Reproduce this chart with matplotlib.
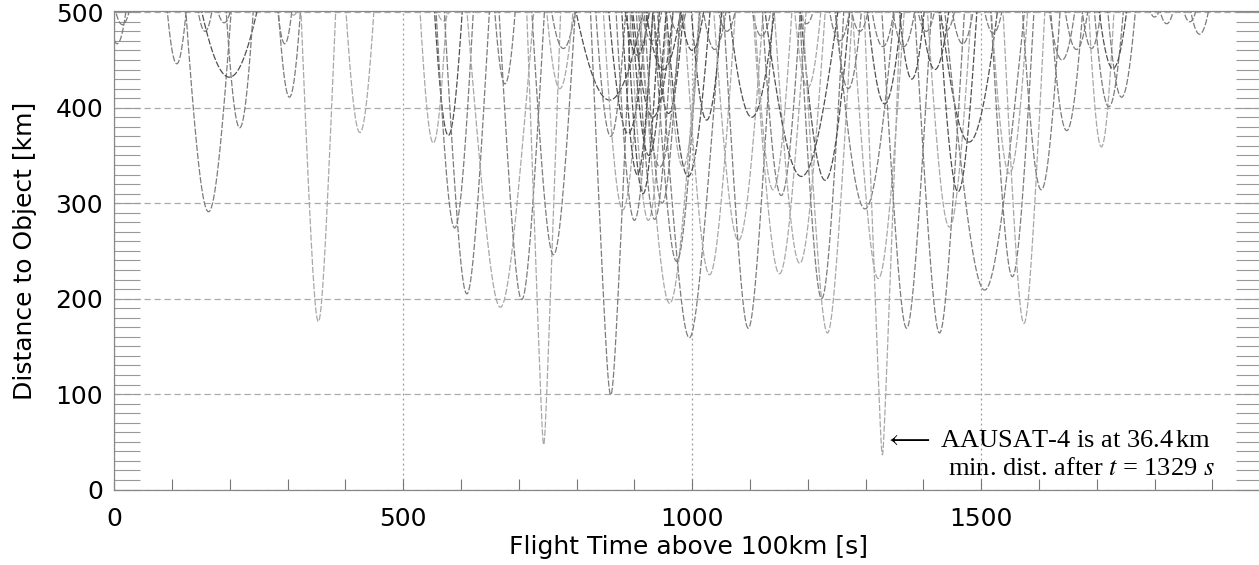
import numpy as np
import matplotlib
matplotlib.use("Agg")
import matplotlib.pyplot as plt
from matplotlib.ticker import MultipleLocator

# close approaches: time of minimum [s], minimum distance [km],
# relative speed [km/s] (sets the width of each dip) and grey shade (0 light .. 2 dark)
t_min = [5, 14, 108, 163, 157, 190, 199, 217, 295, 303, 310, 353, 425,
         552, 578, 569, 589, 610, 668, 676, 705, 743, 760, 777, 771,
         857, 859, 859, 880, 889, 900, 924, 935, 932, 944, 959, 961, 973,
         993, 995, 1025, 1030, 1039, 1080, 1097, 1103,
         1151, 1154, 1186, 1189, 1198, 1200, 1224, 1230, 1234, 1299, 1322,
         1329, 1330, 1333, 1366, 1371,
         1428, 1445, 1460, 1468, 1479, 1506, 1549, 1554, 1574, 1604, 1648,
         1691, 1708, 1721, 1728, 1743, 1800, 1821, 1861, 1878,
         905, 930, 950, 975, 984, 1000, 1060, 1120, 1140, 1255, 1290,
         1405, 1420, 1440, 1521, 1640, 1665,
         905, 915, 948, 925, 1270, 1380]
d_min = [467, 487, 446, 291, 480, 489, 432, 379, 467, 411, 497, 176, 374,
         363, 371, 491, 274, 205, 191, 425, 199, 47, 246, 462, 420,
         408, 370, 99, 293, 373, 282, 282, 283, 390, 338, 394, 195, 239,
         328, 159, 387, 225, 461, 261, 169, 390,
         226, 308, 237, 328, 488, 421, 200, 324, 164, 294, 221,
         36.4, 464, 404, 464, 169,
         164, 275, 312, 467, 364, 209, 331, 223, 174, 314, 376,
         462, 359, 401, 441, 411, 495, 488, 490, 477,
         455, 470, 440, 480, 338, 460, 480, 475, 314, 470, 480,
         480, 440, 481, 478, 450, 461,
         330, 310, 300, 350, 420, 430]
v_rel = [12, 10, 14, 10.4, 12, 10, 5.3, 14, 15, 15, 10, 15.6, 13.8,
         15, 14, 10, 13, 11.7, 8, 15, 11.7, 17, 11.6, 9.5, 12,
         5, 13, 14, 12, 10, 13, 13, 13, 9, 10, 12, 9, 11,
         10, 8.6, 12, 10, 10, 10, 11, 8,
         9.7, 12, 10, 6, 10, 12, 12, 9, 11, 8, 10,
         16, 10, 10, 10, 11,
         11, 11, 12, 10, 7, 6.6, 12, 12, 13, 12, 12,
         12, 16, 12, 10, 12, 10, 10, 10, 10,
         10, 10, 8, 10, 12, 10, 10, 10, 12, 10, 10,
         10, 10, 10, 10, 10, 10,
         14, 14, 13, 12, 12, 12]
shade = [1, 1, 1, 1, 1, 1, 2, 1, 1, 1, 0, 0, 0,
         0, 2, 0, 1, 1, 0, 1, 1, 0, 1, 1, 0,
         2, 1, 1, 0, 2, 1, 0, 1, 2, 1, 2, 0, 1,
         2, 1, 2, 0, 1, 0, 1, 2,
         0, 1, 0, 2, 1, 0, 1, 2, 0, 1, 0,
         0, 1, 2, 1, 1,
         1, 0, 2, 1, 2, 1, 0, 1, 0, 1, 1,
         1, 0, 1, 2, 1, 1, 1, 1, 1,
         2, 1, 2, 1, 0, 2, 1, 1, 0, 1, 1,
         1, 2, 1, 1, 1, 1,
         2, 2, 1, 2, 1, 2]

grey = {0: "#a8a8a8", 1: "#7c7c7c", 2: "#505050"}

fig = plt.figure(figsize=(12.59, 5.65), dpi=100)
ax = fig.add_axes([0.0908, 0.1327, 0.9116, 0.8473])

t = np.arange(0, 1990, 0.25)
for t0, d0, v, s in zip(t_min, d_min, v_rel, shade):
    d = np.sqrt(d0 ** 2 + (v * (t - t0)) ** 2)
    d[d > 520] = np.nan
    ax.plot(t, d, color=grey[s], lw=0.9, linestyle=(0, (5, 1.5)), zorder=2)

ax.set_xlim(0, 1986)
ax.set_ylim(-0.5, 501)

ax.set_xticks([0, 500, 1000, 1500])
ax.set_yticks([0, 100, 200, 300, 400, 500])
ax.xaxis.set_minor_locator(MultipleLocator(100))
ax.yaxis.set_minor_locator(MultipleLocator(10))

ax.tick_params(axis="x", which="both", direction="in", length=8, width=0.8,
               color="#777777", labelsize=18, pad=12, top=False)
ax.tick_params(axis="y", which="both", direction="in", length=19, width=0.8,
               color="#999999", labelsize=18, pad=8, right=True)

ax.xaxis.grid(True, which="major", linestyle=(0, (1.5, 2.5)), color="#999999", lw=0.9)
ax.yaxis.grid(True, which="major", linestyle=(0, (5, 3)), color="#aaaaaa", lw=0.9)

for sp in ax.spines.values():
    sp.set_color("#888888")
    sp.set_linewidth(0.9)

ax.set_xlabel("Flight Time above 100km [s]", fontsize=18, labelpad=3)
ax.set_ylabel("Distance to Object [km]", fontsize=18, labelpad=13)

plt.rcParams["mathtext.fontset"] = "stix"
serif = ["Liberation Serif", "DejaVu Serif"]
ax.text(1897, 44.5, r"$\longleftarrow$ AAUSAT-4 is at 36.4$\,$km",
        ha="right", va="baseline", fontsize=19, family=serif, zorder=5)
ax.text(1904, 15.2, r"min. dist. after $t$ = 1329 $s$",
        ha="right", va="baseline", fontsize=19, family=serif, zorder=5)

fig.savefig("out.png", dpi=100)
